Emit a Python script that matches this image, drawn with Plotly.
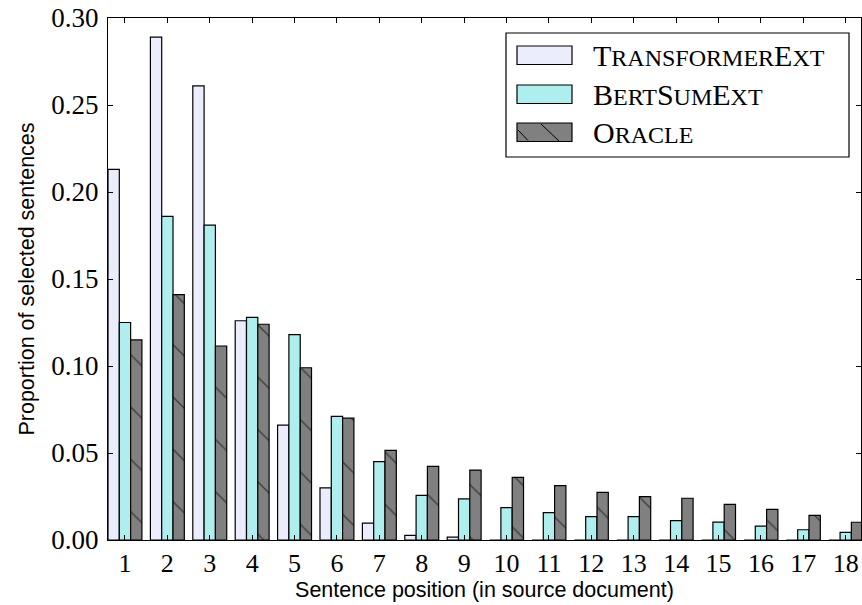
import plotly.graph_objects as go

positions = list(range(1, 19))
tick_labels = [str(p) for p in positions]

transformer_ext = [0.213, 0.289, 0.261, 0.126, 0.066, 0.030, 0.0097, 0.0027, 0.0017,
                   0.0, 0.0, 0.0, 0.0, 0.0, 0.0, 0.0, 0.0, 0.0]
bertsum_ext = [0.125, 0.186, 0.181, 0.128, 0.118, 0.071, 0.045, 0.0257, 0.0236,
               0.0186, 0.0157, 0.0134, 0.0134, 0.0111, 0.0103, 0.0080, 0.0059, 0.0044]
oracle = [0.115, 0.141, 0.1115, 0.124, 0.099, 0.070, 0.0515, 0.0423, 0.0402,
          0.036, 0.0312, 0.0274, 0.0249, 0.024, 0.0205, 0.0176, 0.0142, 0.0102]

series_names = ["TransformerExt", "BertSumExt", "Oracle"]
# small-caps rendering of the legend labels
SC = "<span style='font-size:24px'>"
legend_labels = [
    "T" + SC + "RANSFORMER</span>E" + SC + "XT</span>",
    "B" + SC + "ERT</span>S" + SC + "UM</span>E" + SC + "XT</span>",
    "O" + SC + "RACLE</span>",
]
colors = ["#EBEDFC", "#AFEEEE", "#808080"]

W, H = 862, 605
ML, MR, MT, MB = 108, 1, 18, 65
PW, PH = W - ML - MR, H - MT - MB


def px(x):
    return (x - ML) / PW


def py(y):
    return (H - MB - y) / PH


fig = go.Figure()
fig.add_trace(go.Bar(
    x=positions, y=transformer_ext, name=series_names[0],
    marker=dict(color=colors[0], line=dict(color="black", width=1.2)),
))
fig.add_trace(go.Bar(
    x=positions, y=bertsum_ext, name=series_names[1],
    marker=dict(color=colors[1], line=dict(color="black", width=1.2)),
))
fig.add_trace(go.Bar(
    x=positions, y=oracle, name=series_names[2],
    marker=dict(color=colors[2], line=dict(color="black", width=1.2),
                pattern=dict(shape="\\", fgcolor="black", bgcolor=colors[2],
                             size=37, solidity=0.04)),
))

serif = "Liberation Serif, DejaVu Serif, serif"
sans = "Liberation Sans, Arial, sans-serif"

# custom legend (box, swatches, labels)
shapes = [dict(type="rect", xref="paper", yref="paper",
               x0=px(506), x1=px(849), y0=py(157), y1=py(33),
               line=dict(color="black", width=1.2), fillcolor="white", layer="above")]
sw_tops = [46, 85, 123]
annotations = []
for i in range(3):
    shapes.append(dict(type="rect", xref="paper", yref="paper",
                       x0=px(517), x1=px(572), y0=py(sw_tops[i] + 18.5), y1=py(sw_tops[i]),
                       line=dict(color="black", width=1.2), fillcolor=colors[i], layer="above"))
    annotations.append(dict(xref="paper", yref="paper", x=px(591), y=py(sw_tops[i] + 9.5),
                            xanchor="left", yanchor="middle", showarrow=False,
                            text=legend_labels[i],
                            font=dict(family=serif, size=30, color="black")))
shapes.append(dict(type="line", xref="paper", yref="paper",
                   x0=px(541), y0=py(124), x1=px(559), y1=py(141),
                   line=dict(color="black", width=1), layer="above"))
shapes.append(dict(type="line", xref="paper", yref="paper",
                   x0=px(518), y0=py(130), x1=px(528), y1=py(140.5),
                   line=dict(color="black", width=1), layer="above"))

fig.update_layout(
    width=W, height=H,
    margin=dict(l=ML, r=MR, t=MT, b=MB),
    paper_bgcolor="white", plot_bgcolor="white",
    barmode="group", bargap=0.2, bargroupgap=0,
    showlegend=False,
    shapes=shapes,
    annotations=annotations,
    xaxis=dict(
        range=[0.6, 18.36], automargin=False, ticklabeloverflow="allow",
        tickmode="array", tickvals=positions, ticktext=tick_labels,
        ticks="inside", ticklen=5, tickcolor="black",
        showline=True, linecolor="black", linewidth=1.2, mirror="ticks",
        showgrid=False, zeroline=False,
        tickfont=dict(family=serif, size=26, color="black"),
        title=dict(text="Sentence position (in source document)",
                   font=dict(family=sans, size=21.5, color="black"), standoff=2),
    ),
    yaxis=dict(
        range=[0, 0.30], automargin=False, ticklabeloverflow="allow",
        tickmode="array", tickvals=[0, 0.05, 0.10, 0.15, 0.20, 0.25, 0.30],
        tickformat=".2f", ticklabelstandoff=3,
        ticks="inside", ticklen=5, tickcolor="black",
        showline=True, linecolor="black", linewidth=1.2, mirror="ticks",
        showgrid=False, zeroline=False,
        tickfont=dict(family=serif, size=27, color="black"),
        title=dict(text="Proportion of selected sentences",
                   font=dict(family=sans, size=21.5, color="black"), standoff=10),
    ),
)

fig.write_html("out.html",
               config={"displayModeBar": False},
               post_script="document.body.style.margin='0';document.body.style.overflow='hidden';")
